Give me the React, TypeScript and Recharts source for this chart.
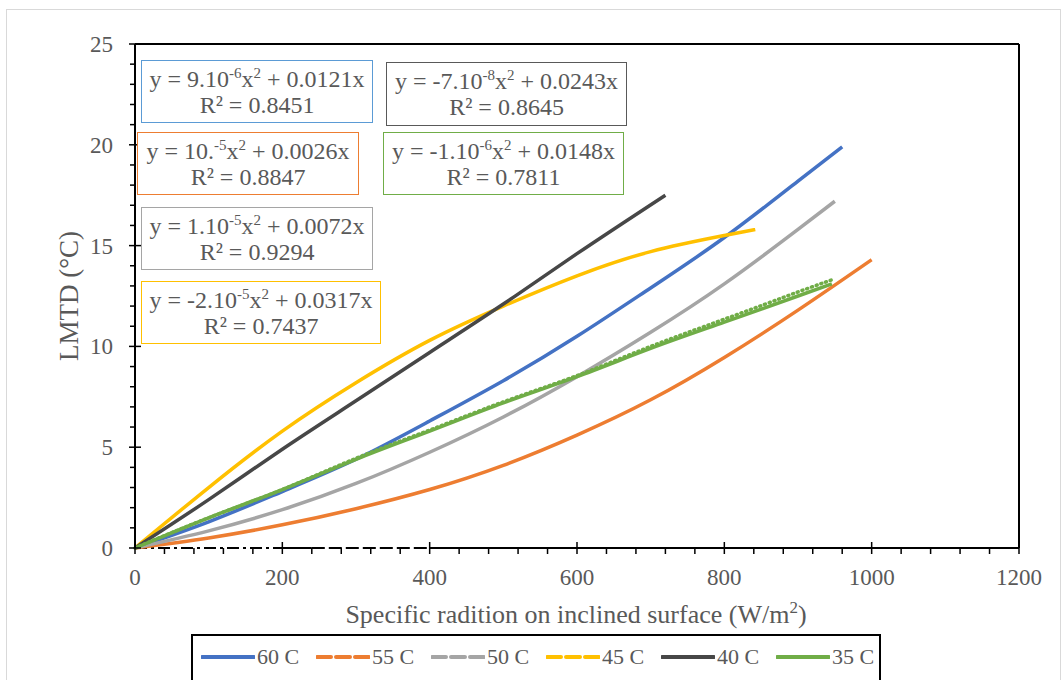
import { LineChart, Line, XAxis, YAxis, ReferenceLine } from "recharts";

const FONT = '"Liberation Serif", "Times New Roman", serif';
const TEXT = "#595959";

// readings: radiation (W/m2) -> LMTD (°C)
const radiation60 = [0, 100, 200, 300, 400, 500, 600, 700, 800, 900, 960];
const lmtd60 = [0, 1.3, 2.8, 4.4, 6.3, 8.3, 10.5, 12.9, 15.4, 18.2, 19.9];

const radiation55 = [0, 100, 200, 300, 400, 500, 600, 700, 800, 900, 1000];
const lmtd55 = [0, 0.5, 1.15, 1.95, 2.9, 4.1, 5.6, 7.35, 9.45, 11.8, 14.3];

const radiation50 = [0, 100, 200, 300, 400, 500, 600, 700, 800, 900, 950];
const lmtd50 = [0, 0.85, 1.9, 3.2, 4.75, 6.5, 8.5, 10.7, 13.1, 15.8, 17.2];

const radiation45 = [0, 100, 200, 300, 400, 500, 600, 700, 800, 842];
const lmtd45 = [0, 3.0, 5.8, 8.2, 10.3, 12.0, 13.5, 14.7, 15.5, 15.8];

const radiation40 = [0, 100, 200, 300, 400, 500, 600, 720];
const lmtd40 = [0, 2.4, 4.9, 7.3, 9.7, 12.1, 14.6, 17.5];

const radiation35 = [0, 100, 200, 300, 400, 500, 600, 700, 800, 900, 946];
const lmtd35 = [0, 1.5, 2.9, 4.4, 5.8, 7.2, 8.5, 9.9, 11.2, 12.5, 13.1];
// dotted trendline of 35 C, peeking just above the series near the end
const lmtd35Trend = [0, 1.5, 2.9, 4.45, 5.85, 7.25, 8.55, 10.0, 11.35, 12.7, 13.3];

const xMajor = [0, 200, 400, 600, 800, 1000, 1200];
const yMajor = [0, 5, 10, 15, 20, 25];
const xTicks = Array.from({ length: 31 }, (_, i) => i * 40);
const yTicks = Array.from({ length: 26 }, (_, i) => i);

const toPoints = (xs: number[], ys: number[]) => xs.map((x, i) => ({ x, y: ys[i] }));

const series = [
  { name: "60 C", color: "#4472C4", dash: undefined, data: toPoints(radiation60, lmtd60) },
  { name: "55 C", color: "#ED7D31", dash: "14 5", data: toPoints(radiation55, lmtd55) },
  { name: "50 C", color: "#A5A5A5", dash: "14 5", data: toPoints(radiation50, lmtd50) },
  { name: "45 C", color: "#FFC000", dash: "14 5", data: toPoints(radiation45, lmtd45) },
  { name: "40 C", color: "#474747", dash: undefined, data: toPoints(radiation40, lmtd40) },
  { name: "35 C", color: "#70AD47", dash: undefined, data: toPoints(radiation35, lmtd35) },
];

type Eq = { a: string; exp: string; b: string; r2: string; border: string; box: [number, number, number, number] };
const equations: Eq[] = [
  { a: "9.10", exp: "-6", b: "0.0121x", r2: "0.8451", border: "#5B9BD5", box: [141, 60, 373, 123] },
  { a: "10.", exp: "-5", b: "0.0026x", r2: "0.8847", border: "#ED7D31", box: [137, 132, 359, 195] },
  { a: "1.10", exp: "-5", b: "0.0072x", r2: "0.9294", border: "#A5A5A5", box: [141, 207, 373, 270] },
  { a: "-2.10", exp: "-5", b: "0.0317x", r2: "0.7437", border: "#FFC000", box: [141, 281, 381, 344] },
  { a: "-7.10", exp: "-8", b: "0.0243x", r2: "0.8645", border: "#595959", box: [386, 62, 627, 126] },
  { a: "-1.10", exp: "-6", b: "0.0148x", r2: "0.7811", border: "#70AD47", box: [383, 132, 624, 195] },
];

const sup = { fontSize: 15, verticalAlign: "super", lineHeight: 0 } as const;

function YTick(props: any) {
  const { x, y, payload } = props;
  const major = yMajor.includes(payload.value);
  return (
    <g>
      <line x1={major ? x - 6 : x - 5} x2={major ? x + 6 : x} y1={y} y2={y} stroke="#000" strokeWidth={1.5} />
      {major && (
        <text x={x - 22} y={y} dy="0.35em" textAnchor="end" fontFamily={FONT} fontSize={23} fill={TEXT}>
          {payload.value}
        </text>
      )}
    </g>
  );
}

function XTick(props: any) {
  const { x, y, payload } = props;
  const major = xMajor.includes(payload.value);
  return (
    <g>
      <line x1={x} x2={x} y1={major ? y - 6 : y} y2={y + 6} stroke="#000" strokeWidth={1.5} />
      {major && (
        <text x={x} y={y + 29} dy="0.35em" textAnchor="middle" fontFamily={FONT} fontSize={23} fill={TEXT}>
          {payload.value}
        </text>
      )}
    </g>
  );
}

export default function App() {
  return (
    <div style={{ position: "fixed", left: 0, top: 0, width: 1063, height: 680, background: "#fff", overflow: "hidden", fontFamily: FONT }}>
      <div style={{ position: "absolute", left: 6, top: 9, width: 1053, height: 720, border: "1.5px solid #D9D9D9" }} />
      <LineChart
        width={1063}
        height={680}
        margin={{ top: 44, right: 44, left: 75, bottom: 102 }}
        style={{ position: "absolute", left: 0, top: 0 }}
      >
        <XAxis
          type="number"
          dataKey="x"
          domain={[0, 1200]}
          ticks={xTicks}
          interval={0}
          height={30}
          tickSize={0}
          tickMargin={0}
          tickLine={false}
          tick={<XTick />}
          axisLine={false}
        />
        <YAxis
          type="number"
          domain={[0, 25]}
          ticks={yTicks}
          interval={0}
          width={60}
          tickSize={0}
          tickMargin={0}
          tickLine={false}
          tick={<YTick />}
          axisLine={{ stroke: "#000", strokeWidth: 2 }}
        />
        {/* plot frame: top and right edges */}
        <ReferenceLine y={25} stroke="#000" strokeWidth={2} />
        <ReferenceLine x={1200} stroke="#000" strokeWidth={2} />
        {/* x axis line, broken near the origin as in the source */}
        <ReferenceLine segment={[{ x: 0, y: 0 }, { x: 200, y: 0 }]} stroke="#000" strokeWidth={2} strokeDasharray="12 4 3 4" />
        <ReferenceLine segment={[{ x: 200, y: 0 }, { x: 240, y: 0 }]} stroke="#000" strokeWidth={2} />
        <ReferenceLine segment={[{ x: 240, y: 0 }, { x: 400, y: 0 }]} stroke="#000" strokeWidth={2} strokeDasharray="13 4" />
        <ReferenceLine segment={[{ x: 400, y: 0 }, { x: 1200, y: 0 }]} stroke="#000" strokeWidth={2} />
        {series.map((s) => (
          <Line
            key={s.name}
            data={s.data}
            dataKey="y"
            name={s.name}
            type="natural"
            stroke={s.color}
            strokeWidth={3.5}
            dot={false}
            isAnimationActive={false}
          />
        ))}
        <Line
          data={toPoints(radiation35, lmtd35Trend)}
          dataKey="y"
          name="35 C trend"
          type="natural"
          stroke="#70AD47"
          strokeWidth={3.5}
          strokeDasharray="1 4"
          strokeLinecap="round"
          dot={false}
          isAnimationActive={false}
        />
      </LineChart>

      {equations.map((e, i) => (
        <div
          key={i}
          style={{
            position: "absolute",
            left: e.box[0],
            top: e.box[1],
            width: e.box[2] - e.box[0],
            height: e.box[3] - e.box[1],
            boxSizing: "border-box",
            border: `1.5px solid ${e.border}`,
            background: "#fff",
            color: TEXT,
            fontSize: 24,
            lineHeight: "26px",
            textAlign: "center",
            paddingTop: 5,
            whiteSpace: "nowrap",
          }}
        >
          <div>
            y = {e.a}
            <span style={sup}>{e.exp}</span>x<span style={sup}>2</span> + {e.b}
          </div>
          <div>R² = {e.r2}</div>
        </div>
      ))}

      <div
        style={{
          position: "absolute",
          left: 69,
          top: 296,
          transform: "translate(-50%, -50%) rotate(-90deg)",
          color: TEXT,
          fontSize: 27,
          whiteSpace: "nowrap",
        }}
      >
        LMTD (°C)
      </div>
      <div
        style={{
          position: "absolute",
          left: 576,
          top: 615,
          transform: "translate(-50%, -50%)",
          color: TEXT,
          fontSize: 26,
          whiteSpace: "nowrap",
        }}
      >
        Specific radition on inclined surface (W/m<span style={{ fontSize: 17, verticalAlign: "super", lineHeight: 0 }}>2</span>)
      </div>

      <div
        style={{
          position: "absolute",
          left: 191,
          top: 634,
          width: 690,
          height: 80,
          boxSizing: "border-box",
          border: "2px solid #000",
          background: "#fff",
        }}
      >
        {series.map((s, i) => (
          <div
            key={s.name}
            style={{ position: "absolute", left: 8 + i * 115, top: 6, height: 30, display: "flex", alignItems: "center", whiteSpace: "nowrap" }}
          >
            <svg width={54} height={10}>
              <line x1={1} x2={53} y1={5} y2={5} stroke={s.color} strokeWidth={4} strokeDasharray={s.dash} strokeLinecap="round" />
            </svg>
            <span style={{ color: TEXT, fontSize: 22, marginLeft: 2 }}>{s.name}</span>
          </div>
        ))}
      </div>
    </div>
  );
}
